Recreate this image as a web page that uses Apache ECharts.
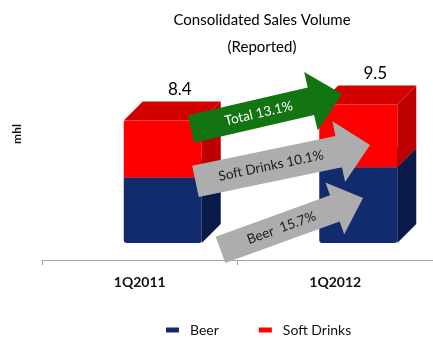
<!DOCTYPE html>
<html><head><meta charset="utf-8">
<script src="https://cdn.jsdelivr.net/npm/echarts@6/dist/echarts.min.js"></script>
<style>html,body{margin:0;padding:0;background:#fff}#c{width:433px;height:338px}</style>
</head><body><div id="c"></div>
<script>
// ---- data ----
const categories = ['1Q2011', '1Q2012'];
const beer = [4.5, 5.2];
const softDrinks = [3.9, 4.3];
const seriesNames = ['Beer', 'Soft Drinks'];
const growthLabels = ['Total 13.1%', 'Soft Drinks 10.1%', 'Beer  15.7%'];

// ---- styling ----
const FONT = 'Lato, "Open Sans", sans-serif';
const DEPTH = 19, LIFT = 17, FRONT_W = 78, SHIFT = 23;
const colors = {
  beer: { front: '#122B6C', side: '#0A1A48', top: '#1A3478' },
  soft: { front: '#FF0000', side: '#BE0000', top: '#D20000' }
};
// arrow annotations (position given relative to category centre, in band-width fractions, and value)
const arrowStyle = [
  { from: [0, 0.262, 8.99], to: [1, 0.035, 11.39], bw: 28, hw: 60, hl: 32, fill: '#127512', text: '#ffffff', off: 8 },
  { from: [0, 0.285, 5.39], to: [1, 0.178, 7.89], bw: 32, hw: 62, hl: 32, fill: '#ADADAD', text: '#1a1a1a', off: 4 },
  { from: [0, 0.413, 0.69], to: [1, 0.142, 4.25], bw: 28, hw: 55, hl: 30, fill: '#ADADAD', text: '#1a1a1a', off: 4 }
];

const beerData = categories.map((c, i) => [i, 0, beer[i]]);
const softData = categories.map((c, i) => [i, beer[i], beer[i] + softDrinks[i]]);

function boxRender(col, withLabel, roundBottom) {
  return function (params, api) {
    const i = api.value(0);
    const lo = api.value(1), hi = api.value(2);
    const pLo = api.coord([i, lo]), pHi = api.coord([i, hi]);
    const cx = pLo[0] + SHIFT;
    const x0 = cx - FRONT_W / 2, x1 = cx + FRONT_W / 2;
    const yb = pLo[1] - LIFT, yt = pHi[1] - LIFT;
    const D = DEPTH;
    const children = [
      { type: 'polygon', shape: { points: [[x1, yb], [x1 + D, yb - D], [x1 + D, yt - D], [x1, yt]] }, style: { fill: col.side } },
      { type: 'polygon', shape: { points: [[x0, yt], [x0 + D, yt - D], [x1 + D, yt - D], [x1, yt]] }, style: { fill: col.top } },
      { type: 'rect', shape: { x: x0, y: yt, width: FRONT_W, height: yb - yt, r: roundBottom ? [0, 0, 3, 3] : [2, 0, 0, 0] }, style: { fill: col.front } }
    ];
    if (withLabel) {
      children.push({ type: 'text', x: cx + 17, y: yt - D - 12,
        style: { text: hi.toFixed(1), fill: '#000', font: '17px ' + FONT, align: 'center', verticalAlign: 'middle' } });
    }
    return { type: 'group', children };
  };
}

function arrowRender(params, api) {
  const a = arrowStyle[params.dataIndex];
  const band = api.size([1, 0])[0];
  const c0 = api.coord([a.from[0], a.from[2]]);
  const c1 = api.coord([a.to[0], a.to[2]]);
  const T = [c0[0] + a.from[1] * band, c0[1]];
  const P = [c1[0] + a.to[1] * band, c1[1]];
  const dx = P[0] - T[0], dy = P[1] - T[1];
  const L = Math.hypot(dx, dy);
  const u = [dx / L, dy / L], n = [-u[1], u[0]];
  const B = [T[0] + u[0] * (L - a.hl), T[1] + u[1] * (L - a.hl)];
  const pt = (base, k) => [base[0] + n[0] * k, base[1] + n[1] * k];
  const pts = [pt(T, a.bw / 2), pt(B, a.bw / 2), pt(B, a.hw / 2), P, pt(B, -a.hw / 2), pt(B, -a.bw / 2), pt(T, -a.bw / 2)];
  const m = (L - a.hl) / 2 + a.off;
  return {
    type: 'group',
    children: [
      { type: 'polygon', shape: { points: pts }, style: { fill: a.fill } },
      { type: 'text', x: T[0] + u[0] * m, y: T[1] + u[1] * m, rotation: -Math.atan2(dy, dx),
        style: { text: growthLabels[params.dataIndex], fill: a.text, font: '13.5px ' + FONT, align: 'center', verticalAlign: 'middle' } }
    ]
  };
}

const chart = echarts.init(document.getElementById('c'));
chart.setOption({
  animation: false,
  backgroundColor: '#fff',
  title: {
    text: 'Consolidated Sales Volume\n(Reported)',
    left: 257, top: 2, textAlign: 'center',
    textStyle: { fontFamily: FONT, fontSize: 15, fontWeight: 'normal', color: '#000', lineHeight: 27 }
  },
  legend: {
    data: seriesNames, left: 161, top: 318, icon: 'rect', itemWidth: 13, itemHeight: 5, itemGap: 40,
    textStyle: { fontFamily: FONT, fontSize: 14, color: '#111', padding: [0, 0, 0, 6] }
  },
  graphic: [
    { type: 'text', x: 17, y: 134, rotation: Math.PI / 2,
      style: { text: 'mhl', font: 'bold 12px ' + FONT, fill: '#111', align: 'center', verticalAlign: 'middle' } }
  ],
  grid: { left: 42, right: 0, top: 56, bottom: 78, containLabel: false },
  xAxis: {
    type: 'category', data: categories,
    axisLine: { lineStyle: { color: '#A6A6A6', width: 1 } },
    axisTick: { show: true, length: 5, lineStyle: { color: '#A6A6A6' } },
    axisLabel: { fontFamily: FONT, fontSize: 14, fontWeight: 'bold', color: '#111', margin: 15 }
  },
  yAxis: {
    type: 'value', min: 0, max: 14, show: false
  },
  series: [
    { name: seriesNames[0], type: 'custom', renderItem: boxRender(colors.beer, false, true), data: beerData,
      encode: { x: 0, y: [1, 2] }, itemStyle: { color: colors.beer.front }, clip: false, z: 2 },
    { name: seriesNames[1], type: 'custom', renderItem: boxRender(colors.soft, true, false), data: softData,
      encode: { x: 0, y: [1, 2] }, itemStyle: { color: colors.soft.front }, clip: false, z: 3 },
    { name: 'arrows', type: 'custom', renderItem: arrowRender, data: arrowStyle.map((a, i) => [i]),
      clip: false, z: 5, silent: true }
  ]
});
</script>
</body></html>
